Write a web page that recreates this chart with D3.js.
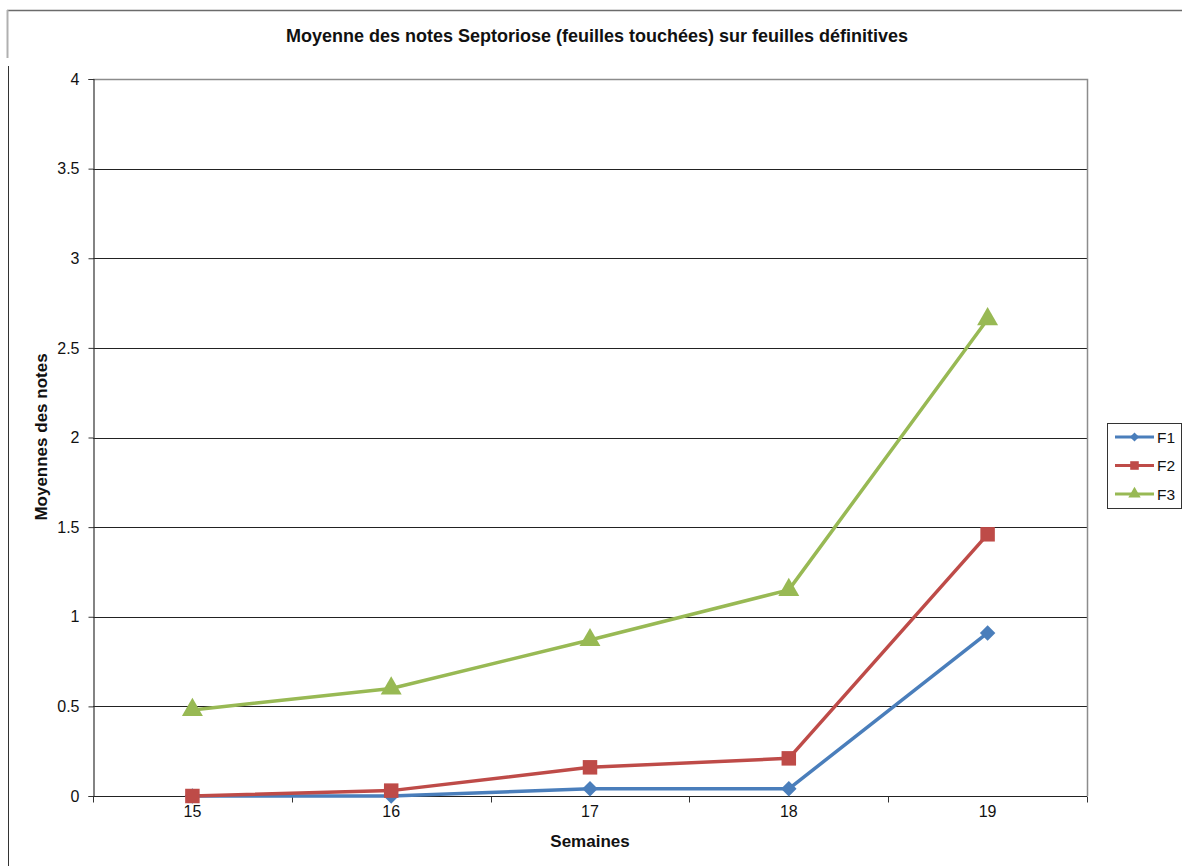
<!DOCTYPE html>
<html>
<head>
<meta charset="utf-8">
<script src="https://cdn.jsdelivr.net/npm/d3@7"></script>
<style>
  html, body { margin: 0; padding: 0; background: #fff; }
  svg { display: block; font-family: "Liberation Sans", Arial, sans-serif; }
</style>
</head>
<body>
<svg id="chart" width="1182" height="866"></svg>
<script>
const weeks = ["15", "16", "17", "18", "19"];
const seriesNames = ["F1", "F2", "F3"];
const f1Values = [0, 0, 0.04, 0.04, 0.91];
const f2Values = [0, 0.03, 0.16, 0.21, 1.46];
const f3Values = [0.48, 0.6, 0.87, 1.15, 2.66];
const yTicks = [0, 0.5, 1, 1.5, 2, 2.5, 3, 3.5, 4];
const seriesColors = ["#4a7ebb", "#be4b48", "#98b954"];
const markerTypes = [d3.symbolSquare, d3.symbolSquare, d3.symbolTriangle];
const markerRotations = [45, 0, 0];
const markerSizes = [120, 210, 190];

const titleText = "Moyenne des notes Septoriose (feuilles touchées) sur feuilles définitives";
const yTitle = "Moyennes des notes";
const xTitle = "Semaines";

const series = seriesNames.map((n, i) => ({
  name: n,
  values: [f1Values, f2Values, f3Values][i],
  color: seriesColors[i],
  symbol: markerTypes[i],
  rot: markerRotations[i],
  size: markerSizes[i]
}));

const svg = d3.select("#chart");
const plot = { left: 93, right: 1087, top: 79, bottom: 796 };

const x = d3.scaleBand().domain(weeks).range([plot.left, plot.right]).padding(0);
const y = d3.scaleLinear().domain([0, 4]).range([plot.bottom, plot.top]);

// outer frame fragments
svg.append("line").attr("x1", 7).attr("x2", 1182).attr("y1", 10.5).attr("y2", 10.5)
  .attr("stroke", "#6b6b6b").attr("stroke-width", 1.5);
svg.append("line").attr("x1", 7.5).attr("x2", 7.5).attr("y1", 10).attr("y2", 58)
  .attr("stroke", "#b0b0b0").attr("stroke-width", 2);
svg.append("line").attr("x1", 8.5).attr("x2", 8.5).attr("y1", 66).attr("y2", 866)
  .attr("stroke", "#333").attr("stroke-width", 1);

// title
svg.append("text").attr("x", 597).attr("y", 42).attr("text-anchor", "middle")
  .attr("font-size", 18).attr("font-weight", "bold").attr("fill", "#111").text(titleText);

// gridlines
svg.append("g").selectAll("line").data(yTicks.filter(t => t > 0 && t < 4)).join("line")
  .attr("x1", plot.left).attr("x2", plot.right)
  .attr("y1", d => Math.round(y(d)) + 0.5).attr("y2", d => Math.round(y(d)) + 0.5)
  .attr("stroke", "#222").attr("stroke-width", 1);

// plot area border (top & right)
svg.append("path")
  .attr("d", `M${plot.left},${plot.top + 0.5}H${plot.right + 0.5}V${plot.bottom}`)
  .attr("fill", "none").attr("stroke", "#8c8c8c").attr("stroke-width", 1.5);

// y axis
const yAxis = d3.axisLeft(y).tickValues(yTicks).tickSize(5).tickPadding(9)
  .tickFormat(d => String(d));
const gy = svg.append("g").attr("transform", `translate(${plot.left + 0.5},0)`).call(yAxis);
gy.select(".domain").attr("stroke", "#333").attr("stroke-width", 1.2);
gy.selectAll(".tick line").attr("stroke", "#333");
gy.selectAll(".tick text").attr("font-size", 16).attr("fill", "#111")
  .attr("font-family", "Liberation Sans, Arial, sans-serif");

// x axis: ticks between categories
const xAxisG = svg.append("g").attr("transform", `translate(0,${plot.bottom + 0.5})`);
xAxisG.append("line").attr("x1", plot.left).attr("x2", plot.right)
  .attr("stroke", "#222").attr("stroke-width", 1.2);
const boundaries = weeks.map(w => x(w)).concat([x(weeks[weeks.length - 1]) + x.bandwidth()]);
xAxisG.selectAll("line.tk").data(boundaries).join("line").attr("class", "tk")
  .attr("x1", d => Math.round(d) + 0.5).attr("x2", d => Math.round(d) + 0.5)
  .attr("y1", 0).attr("y2", 6).attr("stroke", "#333");
xAxisG.selectAll("text").data(weeks).join("text")
  .attr("x", d => x(d) + x.bandwidth() / 2).attr("y", 20)
  .attr("text-anchor", "middle").attr("font-size", 16).attr("fill", "#111").text(d => d);

// axis titles
svg.append("text").attr("x", 590).attr("y", 847).attr("text-anchor", "middle")
  .attr("font-size", 17).attr("font-weight", "bold").attr("fill", "#111").text(xTitle);
svg.append("text").attr("transform", "translate(47,437) rotate(-90)")
  .attr("text-anchor", "middle").attr("font-size", 17).attr("font-weight", "bold")
  .attr("fill", "#111").text(yTitle);

// lines & markers
const line = d3.line().x((d, i) => x(weeks[i]) + x.bandwidth() / 2).y(d => y(d));
series.forEach(s => {
  svg.append("path").datum(s.values).attr("d", line)
    .attr("fill", "none").attr("stroke", s.color).attr("stroke-width", 3.5)
    .attr("stroke-linejoin", "round");
});
series.forEach(s => {
  svg.append("g").selectAll("path").data(s.values).join("path")
    .attr("transform", (d, i) => `translate(${x(weeks[i]) + x.bandwidth() / 2},${y(d)}) rotate(${s.rot})`)
    .attr("d", d3.symbol().type(s.symbol).size(s.size))
    .attr("fill", s.color);
});

// legend
const lg = svg.append("g");
lg.append("rect").attr("x", 1107.5).attr("y", 423.5).attr("width", 74).attr("height", 85)
  .attr("fill", "#fff").attr("stroke", "#333").attr("stroke-width", 1);
const ly = d3.scalePoint().domain(seriesNames).range([437, 494]);
series.forEach(s => {
  const yy = ly(s.name);
  lg.append("line").attr("x1", 1115).attr("x2", 1154).attr("y1", yy).attr("y2", yy)
    .attr("stroke", s.color).attr("stroke-width", 3);
  lg.append("path").attr("transform", `translate(1134.5,${yy}) rotate(${s.rot})`)
    .attr("d", d3.symbol().type(s.symbol).size(s.size * 0.35)).attr("fill", s.color);
  lg.append("text").attr("x", 1157).attr("y", yy + 5.5).attr("font-size", 15.5)
    .attr("fill", "#111").text(s.name);
});
</script>
</body>
</html>
